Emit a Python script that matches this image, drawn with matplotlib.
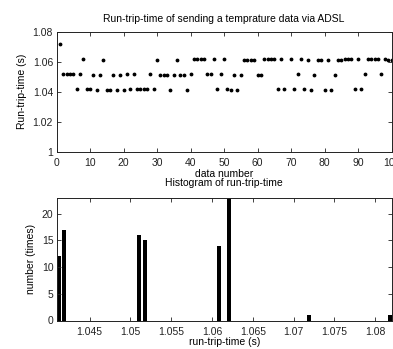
import numpy as np
import matplotlib
matplotlib.use('Agg')
import matplotlib.pyplot as plt

# run-trip-time for each of the 100 samples (s)
data_number = np.arange(1, 101)
rtt = [1.072, 1.052, 1.052, 1.052, 1.052, 1.042, 1.052, 1.062, 1.042, 1.042,
       1.051, 1.041, 1.051, 1.061, 1.041, 1.041, 1.051, 1.041, 1.051, 1.041,
       1.052, 1.042, 1.052, 1.042, 1.042, 1.042, 1.042, 1.052, 1.042, 1.061,
       1.051, 1.051, 1.051, 1.041, 1.051, 1.061, 1.051, 1.051, 1.041, 1.052,
       1.062, 1.062, 1.062, 1.062, 1.052, 1.052, 1.062, 1.042, 1.052, 1.062,
       1.042, 1.041, 1.051, 1.041, 1.051, 1.061, 1.061, 1.061, 1.061, 1.051,
       1.051, 1.062, 1.062, 1.062, 1.062, 1.042, 1.062, 1.042, 1.082, 1.062,
       1.042, 1.052, 1.062, 1.042, 1.061, 1.041, 1.051, 1.061, 1.061, 1.041,
       1.061, 1.041, 1.051, 1.061, 1.061, 1.062, 1.062, 1.062, 1.042, 1.062,
       1.042, 1.052, 1.062, 1.062, 1.062, 1.062, 1.052, 1.062, 1.061, 1.061]

# histogram bins (centres) and counts
hist_centres = [1.0413, 1.0419, 1.0510, 1.0518, 1.0609, 1.0621, 1.0719, 1.0818]
hist_counts = [12, 17, 16, 15, 14, 23, 1, 1]

top_yticks = [1, 1.02, 1.04, 1.06, 1.08]
top_xticks = [0, 10, 20, 30, 40, 50, 60, 70, 80, 90, 100]
bot_xticks = [1.045, 1.05, 1.055, 1.06, 1.065, 1.07, 1.075, 1.08]
bot_yticks = [0, 5, 10, 15, 20]

plt.rcParams['font.family'] = ['Liberation Sans', 'DejaVu Sans']
FS = 7.5

W, H = 393, 349
fig = plt.figure(figsize=(W / 100, H / 100), dpi=100)
fig.patch.set_facecolor('white')

def px_axes(l, t, r, b):
    return fig.add_axes([l / W, 1 - b / H, (r - l) / W, (b - t) / H])

def style_ax(ax, xpad):
    ax.tick_params(direction='in', length=3, width=0.6, top=True, right=True,
                   labelsize=FS, colors='#222222')
    ax.tick_params(axis='x', pad=xpad)
    ax.tick_params(axis='y', pad=2.5)
    for s in ax.spines.values():
        s.set_linewidth(0.7)
        s.set_color('#222222')

# --- top panel: run-trip-time vs sample number
ax1 = px_axes(56.5, 31.5, 391.5, 151.5)
ax1.plot(data_number, rtt, '.', color='black', markersize=3.5)
ax1.set_xlim(0, 100)
ax1.set_ylim(1, 1.08)
ax1.set_xticks(top_xticks)
ax1.set_yticks(top_yticks)
ax1.set_yticklabels(['%g' % v for v in top_yticks])
style_ax(ax1, 5)
ax1.set_title('Run-trip-time of sending a temprature data via ADSL', fontsize=FS, pad=7)
ax1.set_xlabel('data number', fontsize=FS, labelpad=0.5)
ax1.set_ylabel('Run-trip-time (s)', fontsize=FS)
ax1.yaxis.set_label_coords(-0.088, 0.5)

# --- bottom panel: histogram
ax2 = px_axes(57, 197.5, 391.5, 320.5)
ax2.bar(hist_centres, hist_counts, width=0.0005, color='black', edgecolor='black', linewidth=0)
ax2.set_xlim(1.041, 1.082)
ax2.set_ylim(0, 23)
ax2.set_xticks(bot_xticks)
ax2.set_xticklabels(['%g' % v for v in bot_xticks])
ax2.set_yticks(bot_yticks)
style_ax(ax2, 4.5)
ax2.set_title('Histogram of run-trip-time', fontsize=FS, pad=8)
ax2.set_xlabel('run-trip-time (s)', fontsize=FS, labelpad=0)
ax2.set_ylabel('number (times)', fontsize=FS)
ax2.yaxis.set_label_coords(-0.063, 0.5)

fig.savefig('out.png', dpi=100)
